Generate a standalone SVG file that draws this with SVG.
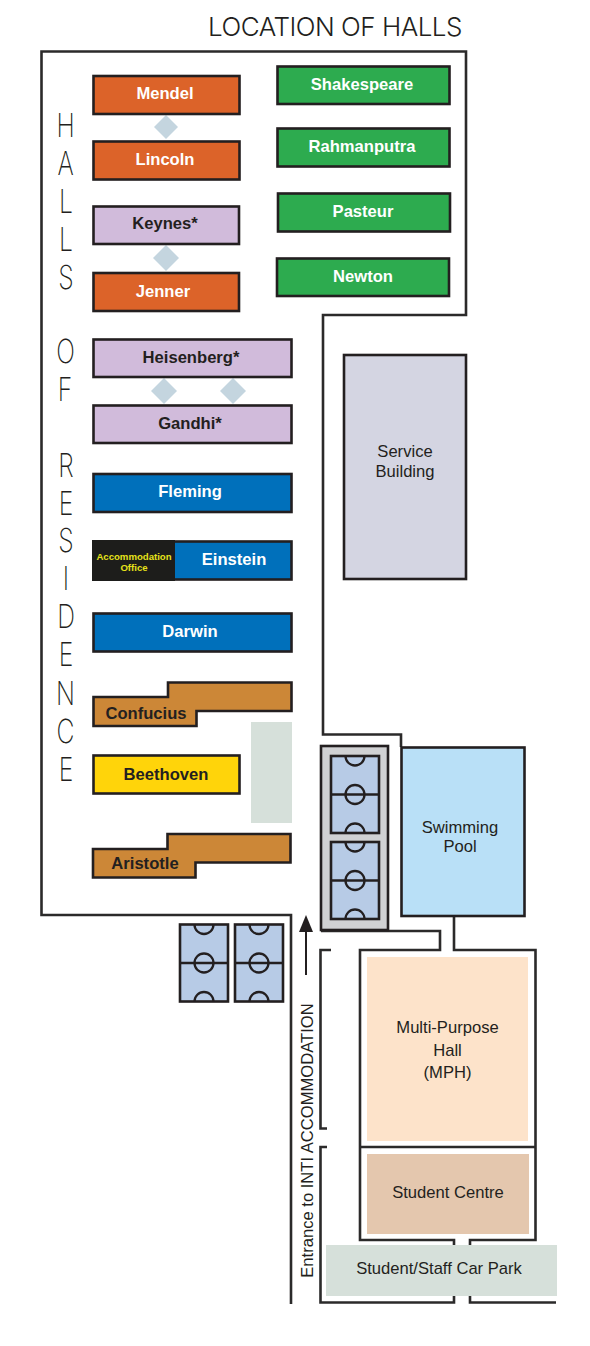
<svg xmlns="http://www.w3.org/2000/svg" width="590" height="1346" viewBox="0 0 590 1346">
<style>
text{font-family:"Liberation Sans",Arial,sans-serif;text-anchor:middle;fill:#231f20}
.b{stroke:#231f20;stroke-width:2.6}
.w{fill:none;stroke:#2b2a2a;stroke-width:2.6}
.l{font-size:16.600px;font-weight:bold}
.lw{font-size:16.600px;font-weight:bold;fill:#fff}
.n{font-size:16.600px}
.t{font-family:"Inter","Liberation Sans",sans-serif;font-weight:300;font-size:26px;letter-spacing:-.5px}
.v{font-family:"Inter","Liberation Sans",sans-serif;font-weight:200;font-size:33px}
.o{fill:#dc6329}.g{fill:#2dab4f}.p{fill:#d1bbdb}.u{fill:#0070bb}.r{fill:#cc8737}
.d{fill:#c4d5df}
.f{fill:#b7cbe6;stroke:#231f20;stroke-width:2.6}
.fl{fill:none;stroke:#231f20;stroke-width:2.3}
</style>
<defs>
<g id="fv">
<rect class="f" x="0" y="0" width="48" height="77"/>
<path class="fl" d="M0 38.500H48"/>
<circle class="fl" cx="24" cy="38.500" r="9.500"/>
<path class="fl" d="M14.500 0A9.500 9.500 0 0 0 33.500 0M14.500 77A9.500 9.500 0 0 1 33.500 77"/>
</g>
</defs>
<text class="t" x="335" y="36">LOCATION OF HALLS</text>
<g id="connectors">
<path class="w" d="M291 1304V915H41.500V51.500H466V315H323V734.500H401V747"/>
<path class="w" d="M321 931H440V950H360V1240H454V1245M470 1245V1240H535.500V950H454V916"/>
<path class="w" d="M360 1147H535.500"/>
<path class="w" d="M331 950H320.500V1128.500H327M327 1147H320.500V1302.500H454V1296M470 1296V1302.500H556"/>
<path d="M306 975V930" fill="none" stroke="#231f20" stroke-width="2"/>
<path d="M306 915L313 932H299Z" fill="#231f20"/>
</g>
<g id="halls-label">
<text class="v" transform="translate(65.500 137) scale(.75 1)">H</text>
<text class="v" transform="translate(65.500 175) scale(.75 1)">A</text>
<text class="v" transform="translate(66 213) scale(.75 1)">L</text>
<text class="v" transform="translate(66 251) scale(.75 1)">L</text>
<text class="v" transform="translate(66 289) scale(.75 1)">S</text>
<text class="v" transform="translate(65.500 363) scale(.75 1)">O</text>
<text class="v" transform="translate(65 401) scale(.75 1)">F</text>
<text class="v" transform="translate(66 477) scale(.75 1)">R</text>
<text class="v" transform="translate(66 515) scale(.75 1)">E</text>
<text class="v" transform="translate(66 552) scale(.75 1)">S</text>
<text class="v" transform="translate(66 590) scale(.75 1)">I</text>
<text class="v" transform="translate(66 628) scale(.75 1)">D</text>
<text class="v" transform="translate(66 666) scale(.75 1)">E</text>
<text class="v" transform="translate(65.500 705) scale(.75 1)">N</text>
<text class="v" transform="translate(65.500 743) scale(.75 1)">C</text>
<text class="v" transform="translate(66 781) scale(.75 1)">E</text>
</g>
<g id="diamonds">
<path class="d" d="M166 115L178 127L166 139L154 127Z"/>
<path class="d" d="M166 245L179 258L166 271L153 258Z"/>
<path class="d" d="M164 378L177 391L164 404L151 391Z"/>
<path class="d" d="M233 378L246 391L233 404L220 391Z"/>
</g>
<g id="mendel"><rect class="b o" x="93.500" y="76" width="146" height="38"/><text class="lw" x="165" y="99">Mendel</text></g>
<g id="lincoln"><rect class="b o" x="93.500" y="141.500" width="146" height="38"/><text class="lw" x="165" y="165">Lincoln</text></g>
<g id="keynes"><rect class="b p" x="93.500" y="206.500" width="145.500" height="37.500"/><text class="l" x="165" y="229">Keynes*</text></g>
<g id="jenner"><rect class="b o" x="93.500" y="273" width="145.500" height="38"/><text class="lw" x="163" y="297">Jenner</text></g>
<g id="shakespeare"><rect class="b g" x="277.500" y="66.500" width="172" height="37.500"/><text class="lw" x="362" y="90">Shakespeare</text></g>
<g id="rahmanputra"><rect class="b g" x="277.500" y="128.500" width="172" height="38"/><text class="lw" x="362" y="152">Rahmanputra</text></g>
<g id="pasteur"><rect class="b g" x="278" y="193.500" width="172" height="38"/><text class="lw" x="363" y="217">Pasteur</text></g>
<g id="newton"><rect class="b g" x="277" y="258.500" width="172" height="37.500"/><text class="lw" x="363" y="282">Newton</text></g>
<g id="heisenberg"><rect class="b p" x="93.500" y="339.500" width="198" height="37.500"/><text class="l" x="191" y="363">Heisenberg*</text></g>
<g id="gandhi"><rect class="b p" x="93.500" y="405.500" width="198" height="37.500"/><text class="l" x="190" y="429">Gandhi*</text></g>
<g id="fleming"><rect class="b u" x="93.500" y="474" width="198" height="38"/><text class="lw" x="190" y="497">Fleming</text></g>
<g id="einstein"><rect class="b u" x="93.500" y="541.500" width="198" height="38"/><rect x="92" y="540" width="83" height="41" fill="#1d1d1b"/><text class="lw" x="234" y="565">Einstein</text><text x="134" y="560" font-size="9.600" font-weight="bold" style="fill:#e6e21a">Accommodation</text><text x="134" y="571" font-size="9.600" font-weight="bold" style="fill:#e6e21a">Office</text></g>
<g id="darwin"><rect class="b u" x="93.500" y="613.500" width="198" height="38"/><text class="lw" x="190" y="637">Darwin</text></g>
<g id="confucius"><path class="b r" d="M168 682.500H291.500V711H196.500V726H93.500V697H168Z"/><text class="l" x="146" y="719">Confucius</text></g>
<g id="beethoven"><rect class="b" fill="#ffd40a" x="93.500" y="755.500" width="146" height="38"/><text class="l" x="166" y="780">Beethoven</text></g>
<rect id="green-area" x="251" y="722" width="41" height="101" fill="#d6e0da"/>
<g id="aristotle"><path class="b r" d="M167.500 834H290.500V862.500H195.500V877.500H93V849H167.500Z"/><text class="l" x="145" y="869">Aristotle</text></g>
<g id="service"><rect class="b" fill="#d4d5e2" x="344" y="355" width="122" height="224"/><text class="n" x="405" y="457">Service</text><text class="n" x="405" y="477">Building</text></g>
<g id="pool"><rect class="b" fill="#b9e0f7" x="401.500" y="747.500" width="123" height="168.500"/><text class="n" x="460" y="833">Swimming</text><text class="n" x="460" y="852">Pool</text></g>
<g id="courts-block"><rect class="b" fill="#d0d1d3" x="321" y="746" width="67" height="184"/><use href="#fv" x="331" y="756"/><use href="#fv" x="331" y="842"/></g>
<g id="courts-outer"><use href="#fv" x="180" y="924.500"/><use href="#fv" x="235" y="924.500"/></g>
<g id="mph"><rect x="367" y="957" width="161" height="184" fill="#fde3ca"/><text class="n" x="447.500" y="1033">Multi-Purpose</text><text class="n" x="447.500" y="1056">Hall</text><text class="n" x="447.500" y="1078">(MPH)</text></g>
<g id="student-centre"><rect x="367" y="1154" width="162" height="80" fill="#e4c7ae"/><text class="n" x="448" y="1198">Student Centre</text></g>
<g id="car-park"><rect x="326" y="1245" width="231" height="51" fill="#d6e0da"/><text class="n" x="439" y="1274">Student/Staff Car Park</text></g>
<text class="n" transform="translate(312.500 1140.500) rotate(-90)">Entrance to INTI ACCOMMODATION</text>
</svg>
